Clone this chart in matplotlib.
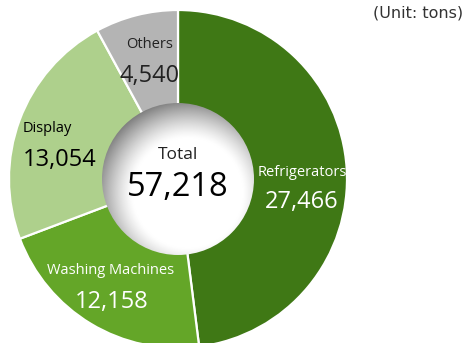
import numpy as np
import matplotlib
matplotlib.use('Agg')
import matplotlib.pyplot as plt
from matplotlib.patches import Circle

# ---- data (tons) ----
categories = ['Refrigerators', 'Washing Machines', 'Display', 'Others']
values = [27466, 12158, 13054, 4540]
colors = ['#3f7815', '#64a628', '#aed08c', '#b4b4b4']
total = sum(values)

plt.rcParams['font.family'] = ['Open Sans', 'DejaVu Sans']

fig = plt.figure(figsize=(4.68, 3.43), dpi=100)
ax = fig.add_axes([0, 0, 1, 1])

cx, cy, r_out = 178, 343 - 179, 169
ax.pie(values, colors=colors, startangle=90, counterclock=False,
       center=(cx, cy), radius=r_out, frame=True,
       wedgeprops=dict(width=100, edgecolor='white', linewidth=1.6))
ax.set_aspect('equal')
ax.axis('off')

# shaded centre disc
r_in = 76
n = 400
xs = np.linspace(cx - r_in, cx + r_in, n)
ys = np.linspace(cy - r_in, cy + r_in, n)
X, Y = np.meshgrid(xs, ys)
# light falls from slightly below-right of centre
d = np.hypot(X - (cx + 10), Y - (cy - 14)) / r_in
shade = np.clip(1.0 - 0.55 * np.clip(d - 0.72, 0, None) ** 1.3 * 2.2, 0.45, 1.0)
img = ax.imshow(shade, extent=(cx - r_in, cx + r_in, cy - r_in, cy + r_in),
                origin='lower', cmap='gray', vmin=0, vmax=1, zorder=5,
                interpolation='bilinear')
img.set_clip_path(Circle((cx, cy), r_in, transform=ax.transData))
ax.set_xlim(0, 468)
ax.set_ylim(0, 343)

ax.text(cx, 343 - 155, 'Total', ha='center', va='center', fontsize=12.5,
        color='#222222', zorder=6)
ax.text(cx, 343 - 188, f'{total:,}', ha='center', va='center', fontsize=23.5,
        color='black', zorder=6)

# slice labels: (name x, name y, value x, value y, text colour)
label_pos = [
    (302, 173, 302, 202, 'white'),
    (111, 271, 112, 302, 'white'),
    (47, 128, 60, 160, 'black'),
    (150, 44, 150, 76, '#222222'),
]
for name, val, (nx, ny, vx, vy, tc) in zip(categories, values, label_pos):
    ax.text(nx, 343 - ny, name, ha='center', va='center', fontsize=10.5,
            color=tc, zorder=6)
    ax.text(vx, 343 - vy, f'{val:,}', ha='center', va='center', fontsize=17,
            color=tc, zorder=6)

ax.text(463, 343 - 13, '(Unit: tons)', ha='right', va='center', fontsize=11.5,
        color='#333333', family='DejaVu Sans')

fig.savefig('out.png', dpi=100)
